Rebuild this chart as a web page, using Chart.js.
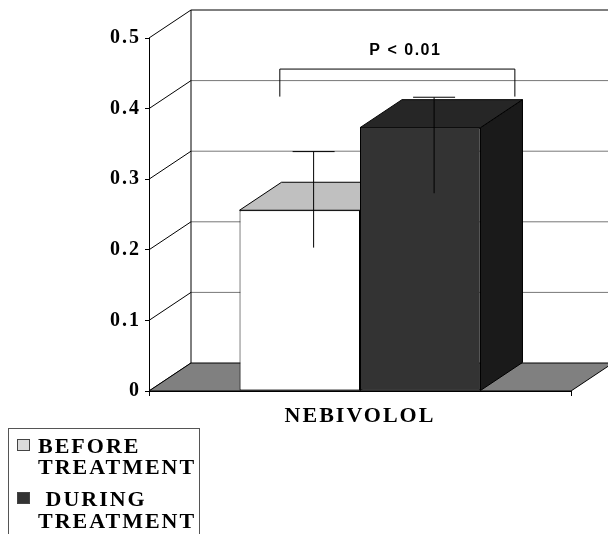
<!DOCTYPE html>
<html>
<head>
<meta charset="utf-8">
<script src="https://cdn.jsdelivr.net/npm/chart.js@4.4.0/dist/chart.umd.min.js"></script>
<style>
html, body { margin: 0; padding: 0; background: #fff; overflow: hidden; }
#wrap { position: relative; width: 608px; height: 534px; }
#legend { position: absolute; left: 8px; top: 428px; width: 192px; height: 120px;
  border: 1px solid #555; box-sizing: border-box; color: #000;
  font: bold 22px "Liberation Serif", "Times New Roman", serif; letter-spacing: 2px; }
#legend .item { position: absolute; left: 29px; line-height: 21.7px; white-space: pre; }
#legend .box { position: absolute; left: 8px; width: 13px; height: 12px; border: 1px solid #444; box-sizing: border-box; }
</style>
</head>
<body>
<div id="wrap">
  <canvas id="grafico" width="608" height="534"></canvas>
  <div id="legend"></div>
</div>
<script>
// datos
const categorias = ['NEBIVOLOL'];
const nombresSeries = [['BEFORE', 'TREATMENT'], [' DURING', 'TREATMENT']];
const valoresAntes = [0.256];
const valoresDurante = [0.373];
const errorAntes = [[0.190, 0.326]];    // [bajo, alto]
const errorDurante = [[0.267, 0.403]];
const ticksY = [0, 0.1, 0.2, 0.3, 0.4, 0.5];
const textoP = 'P < 0.01';
const nivelP = [0.456, 0.417];          // linea del corchete, fin de las patas

// estilo
const coloresFrente = ['#ffffff', '#333333'];
const coloresArriba = ['#c0c0c0', '#262626'];
const coloresLado = ['#a0a0a0', '#1a1a1a'];
const coloresLeyenda = ['#dcdcdc', '#333333'];
const DX = 42, DY = -28;       // profundidad 3D
const FE = 0.33;               // plano de las barras de error
const serif = '"Liberation Serif", "Times New Roman", serif';

function poligono(ctx, pts, relleno) {
  ctx.beginPath();
  ctx.moveTo(pts[0][0], pts[0][1]);
  for (let i = 1; i < pts.length; i++) ctx.lineTo(pts[i][0], pts[i][1]);
  ctx.closePath();
  ctx.fillStyle = relleno;
  ctx.fill();
  ctx.strokeStyle = '#000';
  ctx.lineWidth = 1;
  ctx.stroke();
}

function linea(ctx, x1, y1, x2, y2, color) {
  ctx.beginPath();
  ctx.moveTo(x1, y1);
  ctx.lineTo(x2, y2);
  ctx.strokeStyle = color;
  ctx.lineWidth = 1;
  ctx.stroke();
}

const espaciado = {
  id: 'espaciado',
  beforeLayout(chart) { chart.ctx.letterSpacing = '2px'; },
  beforeDraw(chart) { chart.ctx.letterSpacing = '2px'; }
};

// paredes, piso y caras 3D de las barras
const caja3d = {
  id: 'caja3d',
  beforeDatasetsDraw(chart) {
    const ctx = chart.ctx;
    const xs = chart.scales.x, ys = chart.scales.y;
    const izq = xs.left, der = xs.right;
    const y0 = ys.getPixelForValue(0);
    const yMax = ys.getPixelForValue(ticksY[ticksY.length - 1]);
    ctx.save();
    // lineas de la pared de fondo y pared izquierda
    ticksY.forEach(function (v, i) {
      const yp = ys.getPixelForValue(v);
      if (i > 0 && i < ticksY.length - 1) linea(ctx, izq + DX, yp + DY, der + DX, yp + DY, '#777');
      linea(ctx, izq, yp, izq + DX, yp + DY, '#000');
    });
    linea(ctx, izq + DX, yMax + DY, der + DX, yMax + DY, '#000');
    linea(ctx, izq + DX, yMax + DY, izq + DX, y0 + DY, '#000');
    linea(ctx, der + DX, yMax + DY, der + DX, y0 + DY, '#000');
    // piso
    poligono(ctx, [[izq, y0], [der, y0], [der + DX, y0 + DY], [izq + DX, y0 + DY]], '#808080');
    // caras superior y lateral
    chart.data.datasets.forEach(function (ds, i) {
      chart.getDatasetMeta(i).data.forEach(function (bar) {
        const l = bar.x - bar.width / 2, r = bar.x + bar.width / 2;
        poligono(ctx, [[r, bar.y], [r + DX, bar.y + DY], [r + DX, bar.base + DY], [r, bar.base]], coloresLado[i]);
        poligono(ctx, [[l, bar.y], [r, bar.y], [r + DX, bar.y + DY], [l + DX, bar.y + DY]], coloresArriba[i]);
      });
    });
    ctx.restore();
  },
  afterDatasetsDraw(chart) {
    const ctx = chart.ctx;
    const xs = chart.scales.x, ys = chart.scales.y;
    ctx.save();
    // barras de error
    chart.data.datasets.forEach(function (ds, i) {
      chart.getDatasetMeta(i).data.forEach(function (bar, j) {
        const err = ds.errores[j];
        const ex = bar.x + FE * DX;
        const yb = ys.getPixelForValue(err[0]) + FE * DY;
        const ya = ys.getPixelForValue(err[1]) + FE * DY;
        linea(ctx, ex, yb, ex, ya, '#000');
        linea(ctx, ex - 21, ya, ex + 21, ya, '#000');
      });
    });
    // corchete de significancia
    const ancho = xs.right - xs.left;
    const bx1 = xs.left + 0.31 * ancho, bx2 = xs.left + 0.867 * ancho;
    const by = ys.getPixelForValue(nivelP[0]), bp = ys.getPixelForValue(nivelP[1]);
    ctx.beginPath();
    ctx.moveTo(bx1, bp); ctx.lineTo(bx1, by); ctx.lineTo(bx2, by); ctx.lineTo(bx2, bp);
    ctx.strokeStyle = '#000';
    ctx.lineWidth = 1;
    ctx.stroke();
    ctx.font = 'bold 16px "Liberation Sans", Arial, sans-serif';
    ctx.letterSpacing = '1.5px';
    ctx.fillStyle = '#000';
    ctx.textAlign = 'center';
    ctx.textBaseline = 'middle';
    ctx.fillText(textoP, (bx1 + bx2) / 2 + 8, by - 18);
    ctx.restore();
  }
};

const grafico = new Chart(document.getElementById('grafico').getContext('2d'), {
  type: 'bar',
  data: {
    labels: categorias,
    datasets: [
      { label: nombresSeries[0].join(' '), data: valoresAntes, errores: errorAntes,
        backgroundColor: coloresFrente[0], borderColor: '#000', borderWidth: 1, borderSkipped: false },
      { label: nombresSeries[1].join(' ').trim(), data: valoresDurante, errores: errorDurante,
        backgroundColor: coloresFrente[1], borderColor: '#000', borderWidth: 1, borderSkipped: false }
    ]
  },
  options: {
    responsive: false,
    animation: false,
    layout: { padding: { top: 38, right: 37, left: 0, bottom: 0 } },
    datasets: { bar: { categoryPercentage: 0.571, barPercentage: 1 } },
    plugins: { legend: { display: false }, tooltip: { enabled: false } },
    scales: {
      x: {
        grid: { offset: true, drawOnChartArea: false, tickLength: 5, color: '#000' },
        border: { display: true, color: '#000' },
        ticks: { color: '#000', padding: 7, font: { family: serif, size: 22, weight: 'bold' } },
        afterFit: function (s) { s.height = 143; }
      },
      y: {
        min: 0,
        max: 0.5,
        grid: { drawOnChartArea: false, tickLength: 4, color: '#000' },
        border: { display: true, color: '#000' },
        ticks: { color: '#000', padding: 4, font: { family: serif, size: 20, weight: 'bold' } },
        afterBuildTicks: function (s) { s.ticks = ticksY.map(function (v) { return { value: v }; }); },
        afterFit: function (s) { s.width = 149; }
      }
    }
  },
  plugins: [espaciado, caja3d]
});

// leyenda
const leyenda = document.getElementById('legend');
const topes = [5.6, 59];
const topesCaja = [10, 62.7];
nombresSeries.forEach(function (lineas, i) {
  const caja = document.createElement('div');
  caja.className = 'box';
  caja.style.top = topesCaja[i] + 'px';
  caja.style.background = coloresLeyenda[i];
  leyenda.appendChild(caja);
  const item = document.createElement('div');
  item.className = 'item';
  item.style.top = topes[i] + 'px';
  item.textContent = lineas.join('\n');
  leyenda.appendChild(item);
});
</script>
</body>
</html>
